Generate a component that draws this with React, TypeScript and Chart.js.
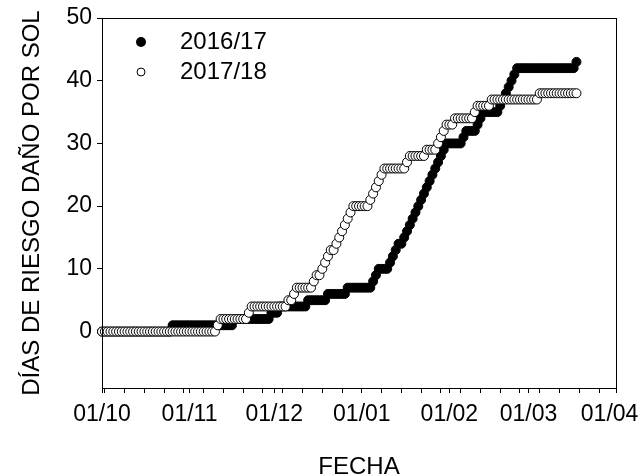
import React, { useEffect, useRef } from "react";
import { Chart, registerables } from "chart.js";

Chart.register(...registerables);

// Day index 0 = 1 October; one value per day
const MONTH_DAYS = [0, 31, 61, 92, 123, 151, 182];
const MONTH_LABELS = ["01/10", "01/11", "01/12", "01/01", "01/02", "01/03", "01/04"];
const WEEK_DAYS = [1, 8, 15, 22, 29, 36, 43, 50, 57, 64, 71, 78, 85, 99, 106, 113, 120, 127, 134, 141, 148, 155, 162, 169, 176];
const Y_TICKS = [0, 10, 20, 30, 40, 50];
const SERIES_NAMES = ["2016/17", "2017/18"];

const VALUES_2016_17 = [
  0, 0, 0, 0, 0, 0, 0, 0, 0, 0, 0, 0, 0, 0, 0, 0, 0, 0, 0, 0, 0, 0, 0, 0, 0,
  1, 1, 1, 1, 1, 1, 1, 1, 1, 1, 1, 1, 1, 1, 1, 1, 1, 1, 1, 1, 1, 1,
  2, 2, 2, 2, 2, 2, 2, 2, 2, 2, 2, 2, 2,
  3, 3, 3,
  4, 4, 4, 4, 4, 4, 4, 4, 4, 4,
  5, 5, 5, 5, 5, 5, 5,
  6, 6, 6, 6, 6, 6, 6,
  7, 7, 7, 7, 7, 7, 7, 7, 7,
  8, 9, 10, 10, 10, 10, 11, 12, 13, 14, 14,
  15, 16, 17, 18, 19, 20, 21, 22, 23, 24, 25, 26, 27, 28, 29,
  30, 30, 30, 30, 30, 30, 31, 32, 32, 32, 32, 33, 34,
  35, 35, 35, 35, 35, 35, 36, 37, 38, 39, 40, 41,
  42, 42, 42, 42, 42, 42, 42, 42, 42, 42, 42, 42, 42, 42, 42, 42, 42, 42, 42, 42, 42,
  43,
];

const VALUES_2017_18 = [
  0, 0, 0, 0, 0, 0, 0, 0, 0, 0, 0, 0, 0, 0, 0, 0, 0, 0, 0, 0,
  0, 0, 0, 0, 0, 0, 0, 0, 0, 0, 0, 0, 0, 0, 0, 0, 0, 0, 0, 0, 0,
  1,
  2, 2, 2, 2, 2, 2, 2, 2, 2, 2,
  3,
  4, 4, 4, 4, 4, 4, 4, 4, 4, 4, 4, 4, 4,
  5, 5, 6,
  7, 7, 7, 7, 7, 7,
  8, 9, 9, 10, 11, 12, 13, 13, 14, 15, 16, 17, 18, 19,
  20, 20, 20, 20, 20, 20,
  21, 22, 23, 24, 25,
  26, 26, 26, 26, 26, 26, 26, 26,
  27,
  28, 28, 28, 28, 28, 28,
  29, 29, 29, 29,
  30, 31, 32,
  33, 33, 33,
  34, 34, 34, 34, 34, 34, 34,
  35,
  36, 36, 36, 36, 36,
  37, 37, 37, 37, 37, 37, 37, 37, 37, 37, 37, 37, 37, 37, 37, 37, 37,
  38, 38, 38, 38, 38, 38, 38, 38, 38, 38, 38, 38, 38, 38,
];

const FONT_FAMILY = "'Liberation Sans', Arial, sans-serif";

const framePlugin = {
  id: "frame",
  afterDraw(chart: any) {
    const { ctx, chartArea } = chart;
    ctx.save();
    ctx.strokeStyle = "#000";
    ctx.lineWidth = 1;
    ctx.strokeRect(
      Math.round(chartArea.left) + 0.5,
      Math.round(chartArea.top) + 0.5,
      Math.round(chartArea.right - chartArea.left),
      Math.round(chartArea.bottom - chartArea.top)
    );
    ctx.restore();
  },
};

const legendPlugin = {
  id: "insideLegend",
  afterDraw(chart: any) {
    const { ctx, chartArea } = chart;
    const mx = chartArea.left + 39;
    const tx = chartArea.left + 78;
    const rows = [chartArea.top + 24, chartArea.top + 54];
    ctx.save();
    ctx.font = `24px ${FONT_FAMILY}`;
    ctx.textBaseline = "middle";
    ctx.textAlign = "left";
    ctx.fillStyle = "#000";
    ctx.strokeStyle = "#000";
    ctx.lineWidth = 1;
    ctx.beginPath();
    ctx.arc(mx, rows[0], 5, 0, Math.PI * 2);
    ctx.fill();
    ctx.fillText(SERIES_NAMES[0], tx, rows[0]);
    ctx.beginPath();
    ctx.arc(mx, rows[1], 4, 0, Math.PI * 2);
    ctx.fillStyle = "#fff";
    ctx.fill();
    ctx.stroke();
    ctx.fillStyle = "#000";
    ctx.fillText(SERIES_NAMES[1], tx, rows[1]);
    ctx.restore();
  },
};

export default function App() {
  const canvasRef = useRef<HTMLCanvasElement | null>(null);

  useEffect(() => {
    if (!canvasRef.current) return;
    const xTicks = Array.from(new Set([...MONTH_DAYS, ...WEEK_DAYS])).sort((a, b) => a - b);

    const chart = new Chart(canvasRef.current, {
      type: "scatter",
      data: {
        datasets: [
          {
            label: SERIES_NAMES[1],
            data: VALUES_2017_18.map((v, i) => ({ x: i, y: v })),
            backgroundColor: "#fff",
            borderColor: "#000",
            borderWidth: 1,
            pointRadius: 4.5,
            showLine: false,
            clip: false,
            order: 0,
          },
          {
            label: SERIES_NAMES[0],
            data: VALUES_2016_17.map((v, i) => ({ x: i, y: v })),
            backgroundColor: "#000",
            borderColor: "#000",
            borderWidth: 1,
            pointRadius: 4.5,
            showLine: false,
            clip: false,
            order: 1,
          },
        ],
      },
      options: {
        responsive: false,
        animation: false,
        devicePixelRatio: 1,
        layout: { autoPadding: false, padding: { left: 0, top: 18, right: 26, bottom: 0 } },
        plugins: {
          legend: { display: false },
          tooltip: { enabled: false },
        },
        scales: {
          x: {
            type: "linear",
            min: 0,
            max: 182,
            afterBuildTicks: (scale: any) => {
              scale.ticks = xTicks.map((v) => ({ value: v }));
            },
            afterFit: (scale: any) => {
              scale.height = 88;
              scale.paddingLeft = 0;
              scale.paddingRight = 0;
            },
            ticks: {
              autoSkip: false,
              maxRotation: 0,
              minRotation: 0,
              padding: 8,
              color: "#000",
              font: { family: FONT_FAMILY, size: 23 },
              callback: (value: any) => {
                const idx = MONTH_DAYS.indexOf(Number(value));
                if (idx < 0) return "";
                return idx === MONTH_DAYS.length - 1 ? MONTH_LABELS[idx] + "  " : MONTH_LABELS[idx];
              },
            },
            grid: {
              drawOnChartArea: false,
              drawTicks: true,
              tickLength: 5,
              color: "#000",
              tickColor: "#000",
            },
            border: { display: true, color: "#000", width: 1 },
            title: {
              display: true,
              text: "FECHA",
              color: "#000",
              font: { family: FONT_FAMILY, size: 24, lineHeight: 1 },
              padding: { top: 0, bottom: -3 },
            },
          },
          y: {
            type: "linear",
            min: -9,
            max: 50,
            afterBuildTicks: (scale: any) => {
              scale.ticks = Y_TICKS.map((v) => ({ value: v }));
            },
            afterFit: (scale: any) => {
              scale.width = 102;
              scale.paddingTop = 0;
              scale.paddingBottom = 0;
            },
            ticks: {
              padding: 5,
              color: "#000",
              font: { family: FONT_FAMILY, size: 23 },
              callback: (value: any) => String(value),
            },
            grid: {
              drawOnChartArea: false,
              drawTicks: true,
              tickLength: 5,
              color: "#000",
              tickColor: "#000",
            },
            border: { display: true, color: "#000", width: 1 },
            title: {
              display: true,
              text: "DÍAS DE RIESGO DAÑO POR SOL",
              color: "#000",
              font: { family: FONT_FAMILY, size: 24, lineHeight: 1.2 },
              padding: { top: 18, bottom: 0 },
            },
          },
        },
      },
      plugins: [framePlugin, legendPlugin],
    } as any);

    return () => {
      chart.destroy();
    };
  }, []);

  return (
    <div style={{ position: "fixed", left: 0, top: 0, width: 642, height: 476, background: "#fff" }}>
      <canvas ref={canvasRef} width={642} height={476} style={{ display: "block", width: 642, height: 476 }} />
    </div>
  );
}
